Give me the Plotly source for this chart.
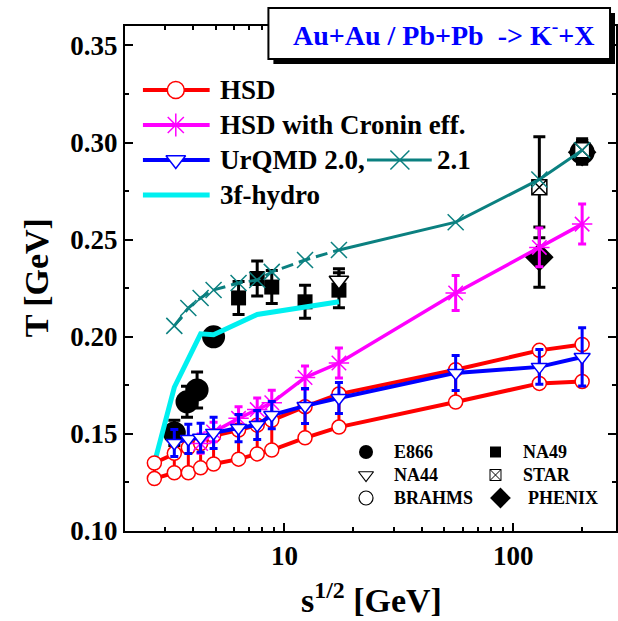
import plotly.graph_objects as go

# ---------------- data ----------------
# HSD (two curves: lower / upper)
hsd_x = [2.7, 3.3, 3.8, 4.3, 4.9, 6.3, 7.6, 8.8, 12.3, 17.3, 56, 130, 200]
hsd_low = [0.127, 0.130, 0.130, 0.1325, 0.1345, 0.137, 0.1397, 0.1417, 0.148, 0.1535, 0.1664, 0.176, 0.177]
hsd_high = [0.135, 0.140, 0.143, 0.145, 0.149, 0.152, 0.1545, 0.157, 0.164, 0.1705, 0.183, 0.193, 0.196]

# HSD with Cronin effect
cronin_x = [4.3, 4.9, 6.3, 7.6, 8.8, 12.3, 17.3, 56, 130, 200]
cronin_y = [0.145, 0.151, 0.158, 0.1625, 0.166, 0.179, 0.1865, 0.2225, 0.246, 0.258]
cronin_err = [0.005, 0.005, 0.006, 0.006, 0.0065, 0.006, 0.0077, 0.009, 0.010, 0.0103]

# UrQMD 2.0
urqmd20_x = [3.3, 3.8, 4.3, 4.9, 6.3, 7.6, 8.8, 12.3, 17.3, 56, 130, 200]
urqmd20_y = [0.1453, 0.1474, 0.148, 0.1505, 0.153, 0.1546, 0.1597, 0.1644, 0.1685, 0.1814, 0.1845, 0.1896]
urqmd20_err = [0.007, 0.0075, 0.0075, 0.008, 0.007, 0.0075, 0.007, 0.009, 0.008, 0.009, 0.009, 0.015]

# UrQMD 2.1
urqmd21_x = [3.3, 3.8, 4.3, 4.9, 6.3, 7.6, 8.8, 12.3, 17.3, 56, 130, 200]
urqmd21_y = [0.2056, 0.2148, 0.220, 0.2241, 0.2277, 0.2292, 0.2334, 0.2395, 0.2447, 0.259, 0.281, 0.296]

# 3f-hydro
hydro_x = [2.7, 3.3, 4.3, 4.9, 7.6, 17.3]
hydro_y = [0.135, 0.174, 0.2015, 0.201, 0.2115, 0.218]

# experimental data
e866_x = [3.3, 3.75, 4.15, 4.9]
e866_y = [0.1505, 0.1665, 0.1726, 0.200]
e866_err = [0.0065, 0.008, 0.0093, 0.004]

na49_x = [6.3, 7.6, 8.8, 12.3, 17.3]
na49_y = [0.220, 0.230, 0.2256, 0.218, 0.224]
na49_err = [0.0085, 0.009, 0.0085, 0.0085, 0.009]

na44_x = [17.3]
na44_y = [0.229]
na44_err = [0.006]

star_x = [130, 200]
star_y = [0.277, 0.296]
star_err = [0.026, 0.006]

phenix_x = [130, 200]
phenix_y = [0.241, 0.295]
phenix_err = [0.0155, 0.006]

brahms_x = [200]
brahms_y = [0.295]
brahms_err = [0.006]

# ---------------- styling ----------------
W, H = 618, 621
L, R, T, B = 125, 0, 26, 90
FONT = "Liberation Serif"
RED, MAG, BLUE, TEAL, CYAN = "#ff0000", "#ff00ff", "#0000ff", "#0b8080", "#00f0f0"


def paper(px, py):
    return (px - L) / (W - L - R), (H - B - py) / (H - B - T)


fig = go.Figure()


def err(arr, color, thick=3, width=5):
    return dict(type="data", array=arr, visible=True, color=color, thickness=thick, width=width)


# experimental data (drawn first)
fig.add_trace(go.Scatter(x=e866_x, y=e866_y, mode="markers", error_y=err(e866_err, "black", 3, 6),
                         marker=dict(symbol="circle", size=23, color="black")))
fig.add_trace(go.Scatter(x=na49_x, y=na49_y, mode="markers", error_y=err(na49_err, "black", 3, 6),
                         marker=dict(symbol="square", size=15, color="black")))
fig.add_trace(go.Scatter(x=brahms_x, y=brahms_y, mode="markers", error_y=err(brahms_err, "black", 3, 6),
                         marker=dict(symbol="circle", size=22, color="white", line=dict(color="black", width=3))))
fig.add_trace(go.Scatter(x=phenix_x, y=phenix_y, mode="markers", error_y=err(phenix_err, "black", 3, 6),
                         marker=dict(symbol="diamond", size=22, color="black")))
fig.add_trace(go.Scatter(x=star_x, y=star_y, mode="markers", error_y=err(star_err, "black", 3, 6),
                         marker=dict(symbol="square-x", size=15, color="white", line=dict(color="black", width=1.5))))
fig.add_trace(go.Scatter(x=na44_x, y=na44_y, mode="markers", error_y=err(na44_err, "black", 3, 6),
                         marker=dict(symbol="triangle-down", size=17, color="white", line=dict(color="black", width=1.5))))

# 3f-hydro
fig.add_trace(go.Scatter(x=hydro_x, y=hydro_y, mode="lines", line=dict(color=CYAN, width=5)))

# HSD lower / upper
hsd_gap = [h - l for h, l in zip(hsd_high, hsd_low)]
fig.add_trace(go.Scatter(x=hsd_x, y=hsd_low, mode="lines+markers", line=dict(color=RED, width=4),
                         error_y=dict(type="data", array=hsd_gap, arrayminus=[0] * len(hsd_gap),
                                      color=RED, thickness=3, width=0),
                         marker=dict(symbol="circle", size=14, color="white", line=dict(color=RED, width=1.5))))
fig.add_trace(go.Scatter(x=hsd_x, y=hsd_high, mode="lines+markers", line=dict(color=RED, width=4),
                         marker=dict(symbol="circle", size=14, color="white", line=dict(color=RED, width=1.5))))

# HSD with Cronin
fig.add_trace(go.Scatter(x=cronin_x, y=cronin_y, mode="lines+markers", line=dict(color=MAG, width=3.5),
                         error_y=err(cronin_err, MAG, 3, 4),
                         marker=dict(symbol="asterisk-open", size=17, color=MAG, line=dict(color=MAG, width=1.5))))

# UrQMD 2.0
fig.add_trace(go.Scatter(x=urqmd20_x, y=urqmd20_y, mode="lines+markers", line=dict(color=BLUE, width=4),
                         error_y=err(urqmd20_err, BLUE, 3, 4),
                         marker=dict(symbol="triangle-down", size=14, color="white", line=dict(color=BLUE, width=1.5))))

# UrQMD 2.1 (dashed at low energies, solid at RHIC)
k = urqmd21_x.index(17.3)
fig.add_trace(go.Scatter(x=urqmd21_x[:k + 1], y=urqmd21_y[:k + 1], mode="lines",
                         line=dict(color=TEAL, width=3, dash="12px,6px")))
fig.add_trace(go.Scatter(x=urqmd21_x[k:], y=urqmd21_y[k:], mode="lines", line=dict(color=TEAL, width=3)))
fig.add_trace(go.Scatter(x=urqmd21_x, y=urqmd21_y, mode="markers",
                         marker=dict(symbol="x-thin-open", size=16, color=TEAL, line=dict(color=TEAL, width=1.5))))

# ---------------- legends (overlay axis in pixel units) ----------------
leg_rows = [
    ("HSD", 90, RED, 4, dict(symbol="circle", size=17, color="white", line=dict(color=RED, width=1.5))),
    ("HSD with Cronin eff.", 125, MAG, 4, dict(symbol="asterisk-open", size=19, color=MAG, line=dict(color=MAG, width=1.5))),
    ("UrQMD 2.0,", 160, BLUE, 4, dict(symbol="triangle-down", size=17, color="white", line=dict(color=BLUE, width=1.5))),
    ("3f-hydro", 195, CYAN, 5, None),
]
annotations = []
for label, py, col, lw, mk in leg_rows:
    fig.add_trace(go.Scatter(x=[143, 210], y=[py, py], xaxis="x2", yaxis="y2", mode="lines",
                             line=dict(color=col, width=lw)))
    if mk:
        fig.add_trace(go.Scatter(x=[176], y=[py], xaxis="x2", yaxis="y2", mode="markers", marker=mk))
    px_, py_ = paper(218, py)
    annotations.append(dict(text=label, x=px_, y=py_, xref="paper", yref="paper", xanchor="left",
                            yanchor="middle", showarrow=False,
                            font=dict(family=FONT, size=27, color="black", weight="bold")))
# UrQMD 2.1 legend glyph
fig.add_trace(go.Scatter(x=[368, 433], y=[160, 160], xaxis="x2", yaxis="y2", mode="lines",
                         line=dict(color=TEAL, width=3)))
fig.add_trace(go.Scatter(x=[401], y=[160], xaxis="x2", yaxis="y2", mode="markers",
                         marker=dict(symbol="x-thin-open", size=19, color=TEAL, line=dict(color=TEAL, width=1.5))))
px_, py_ = paper(436, 160)
annotations.append(dict(text="2.1", x=px_, y=py_, xref="paper", yref="paper", xanchor="left",
                        yanchor="middle", showarrow=False,
                        font=dict(family=FONT, size=27, color="black", weight="bold")))

# experiment legend
exp_rows = [
    ("E866", 367, 452, 393, dict(symbol="circle", size=14, color="black")),
    ("NA49", 497, 452, 523, dict(symbol="square", size=11, color="black")),
    ("NA44", 367, 475, 393, dict(symbol="triangle-down", size=13, color="white", line=dict(color="black", width=1.2))),
    ("STAR", 497, 475, 523, dict(symbol="square-x", size=11, color="white", line=dict(color="black", width=1))),
    ("BRAHMS", 367, 498, 393, dict(symbol="circle", size=14, color="white", line=dict(color="black", width=1.2))),
    ("PHENIX", 502, 498, 528, dict(symbol="diamond", size=16, color="black")),
]
for label, mx, my, tx, mk in exp_rows:
    fig.add_trace(go.Scatter(x=[mx], y=[my], xaxis="x2", yaxis="y2", mode="markers", marker=mk))
    px_, py_ = paper(tx, my)
    annotations.append(dict(text=label, x=px_, y=py_, xref="paper", yref="paper", xanchor="left",
                            yanchor="middle", showarrow=False,
                            font=dict(family=FONT, size=18, color="black", weight="bold")))

# title box
x0, y0 = paper(274, 64)
x1, y1 = paper(617, 13)
shapes = [dict(type="rect", xref="paper", yref="paper", x0=x0, y0=y0, x1=x1, y1=y1,
               fillcolor="black", line=dict(width=0), layer="above")]
x0, y0 = paper(269, 59)
x1, y1 = paper(612, 8)
shapes.append(dict(type="rect", xref="paper", yref="paper", x0=x0, y0=y0, x1=x1, y1=y1,
                   fillcolor="white", line=dict(color="black", width=2), layer="above"))
px_, py_ = paper(445, 33)
annotations.append(dict(text="Au+Au / Pb+Pb  -> K<sup>-</sup>+X", x=px_, y=py_, xref="paper", yref="paper",
                        xanchor="center", yanchor="middle", showarrow=False,
                        font=dict(family=FONT, size=28, color="#0000ff", weight="bold")))

# axis titles
px_, py_ = paper(373, 598)
annotations.append(dict(text="s<sup>1/2</sup> [GeV]", x=px_, y=py_, xref="paper", yref="paper",
                        xanchor="center", yanchor="middle", showarrow=False,
                        font=dict(family=FONT, size=34, color="black", weight="bold")))
px_, py_ = paper(36, 278)
annotations.append(dict(text="T [GeV]", x=px_, y=py_, xref="paper", yref="paper", textangle=-90,
                        xanchor="center", yanchor="middle", showarrow=False,
                        font=dict(family=FONT, size=34, color="black", weight="bold")))

tickfont = dict(family=FONT, size=27, color="black", weight="bold")
minor_x = [2, 3, 4, 5, 6, 7, 8, 9, 20, 30, 40, 50, 60, 70, 80, 90, 200]

fig.update_layout(
    width=W, height=H, margin=dict(l=L, r=R, t=T, b=B),
    plot_bgcolor="white", paper_bgcolor="white", showlegend=False,
    xaxis=dict(type="log", range=[0.303, 2.449], tickvals=[10, 100], ticktext=["10", "100"],
               ticks="inside", ticklen=8, tickwidth=2, tickcolor="black", showline=True, linewidth=2,
               linecolor="black", mirror="allticks", showgrid=False, zeroline=False, tickfont=tickfont,
               minor=dict(tickvals=minor_x, ticks="inside", ticklen=4, tickwidth=2, tickcolor="black",
                          showgrid=False)),
    yaxis=dict(range=[0.10, 0.36], tick0=0.10, dtick=0.05, tickformat=".2f",
               ticks="inside", ticklen=8, tickwidth=2, tickcolor="black", showline=True, linewidth=2,
               linecolor="black", mirror="allticks", showgrid=False, zeroline=False, tickfont=tickfont,
               minor=dict(dtick=0.025, ticks="inside", ticklen=4, tickwidth=2, tickcolor="black",
                          showgrid=False)),
    xaxis2=dict(overlaying="x", range=[L, W - R], visible=False, fixedrange=True),
    yaxis2=dict(overlaying="y", range=[H - B, T], visible=False, fixedrange=True),
    shapes=shapes, annotations=annotations,
)

fig.write_html("out.html")
